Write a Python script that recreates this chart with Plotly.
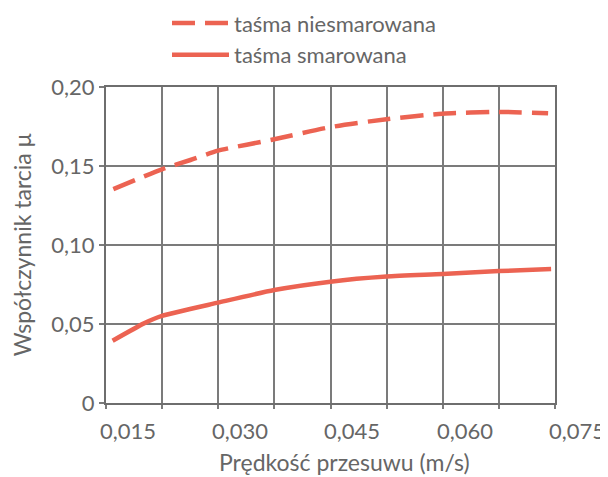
import plotly.graph_objects as go

# ---- data ----
x_unlub = [0.0132, 0.0197, 0.0235, 0.0272, 0.0347, 0.0422, 0.0497, 0.0572, 0.0647, 0.0713]
y_unlub = [0.1354, 0.1479, 0.1538, 0.1597, 0.1669, 0.1746, 0.1796, 0.1831, 0.1842, 0.1834]

x_lub = [0.0131, 0.0173, 0.0197, 0.0272, 0.0347, 0.0422, 0.0497, 0.0572, 0.0647, 0.0717]
y_lub = [0.0394, 0.0504, 0.0551, 0.0635, 0.0715, 0.0768, 0.0800, 0.0816, 0.0835, 0.0848]

x_tick_vals = [0.015, 0.030, 0.045, 0.060, 0.075]
x_tick_text = ["0,015", "0,030", "0,045", "0,060", "0,075"]
y_tick_vals = [0, 0.05, 0.10, 0.15, 0.20]
y_tick_text = ["0", "0,05", "0,10", "0,15", "0,20"]

series_names = ["taśma niesmarowana", "taśma smarowana"]
x_title = "Prędkość przesuwu (m/s)"
y_title = "Współczynnik tarcia μ"

# ---- style ----
RED = "#EC6352"
GRID = "#7b7b7b"
TXT = "#666666"
FONT = "Lato"
FS = 22

x_min = 0.01222
x_cell = 0.0075
x_max = x_min + 8 * x_cell

fig = go.Figure()
fig.add_trace(go.Scatter(
    x=x_unlub, y=y_unlub, mode="lines", name=series_names[0],
    line=dict(color=RED, width=4.5, dash="23px,10px", shape="spline", smoothing=0.6),
    legendgroup="a",
))
fig.add_trace(go.Scatter(
    x=x_lub, y=y_lub, mode="lines", name=series_names[1],
    line=dict(color=RED, width=4.5, shape="spline", smoothing=0.6),
    legendgroup="b",
))

# x tick labels: placed along the x scale (paper fraction of the axis range),
# they run past the right border like in the reference
annotations = [
    dict(x=(v - x_min) / (x_max - x_min), y=0, xref="paper", yref="paper", text=t,
         showarrow=False, yanchor="top", xanchor="center", yshift=-12, xshift=1,
         font=dict(family=FONT, size=FS, color=TXT))
    for v, t in zip(x_tick_vals, x_tick_text)
]
annotations.append(dict(
    x=0.532, y=0, xref="paper", yref="paper", text=x_title, showarrow=False,
    xanchor="center", yanchor="middle", yshift=-59,
    font=dict(family=FONT, size=23, color=TXT),
))

# the page body adds an 8px offset, so the figure is 8px smaller and the
# margins are reduced accordingly
fig.update_layout(
    width=600, height=469,
    margin=dict(l=98, r=53, t=79, b=74, autoexpand=False),
    paper_bgcolor="white", plot_bgcolor="white",
    font=dict(family=FONT, color=TXT),
    showlegend=True,
    legend=dict(
        x=61 / 449, y=1.268, xref="paper", yref="paper",
        xanchor="left", yanchor="top",
        font=dict(family=FONT, size=FS, color=TXT),
        itemwidth=57, tracegroupgap=0, bgcolor="rgba(0,0,0,0)",
    ),
    xaxis=dict(
        range=[x_min, x_max], tickmode="linear", tick0=x_min, dtick=x_cell,
        showticklabels=False, showgrid=True, gridcolor=GRID, gridwidth=1.6,
        zeroline=False, showline=True, mirror=True, linecolor="#6e6e6e", linewidth=2,
        ticks="outside", ticklen=4, tickcolor=GRID, tickwidth=1.6,
        fixedrange=True,
    ),
    yaxis=dict(
        range=[0, 0.2], tickmode="array", tickvals=y_tick_vals, ticktext=y_tick_text,
        showgrid=True, gridcolor=GRID, gridwidth=1.6, zeroline=False,
        showline=True, mirror=True, linecolor="#6e6e6e", linewidth=2,
        ticks="outside", ticklen=5, tickcolor=GRID, tickwidth=1.6, ticklabelstandoff=0,
        tickfont=dict(family=FONT, size=FS, color=TXT),
        title=dict(text=y_title, standoff=25,
                   font=dict(family=FONT, size=23, color=TXT)),
        fixedrange=True,
    ),
    annotations=annotations,
)

fig.write_html("out.html")
